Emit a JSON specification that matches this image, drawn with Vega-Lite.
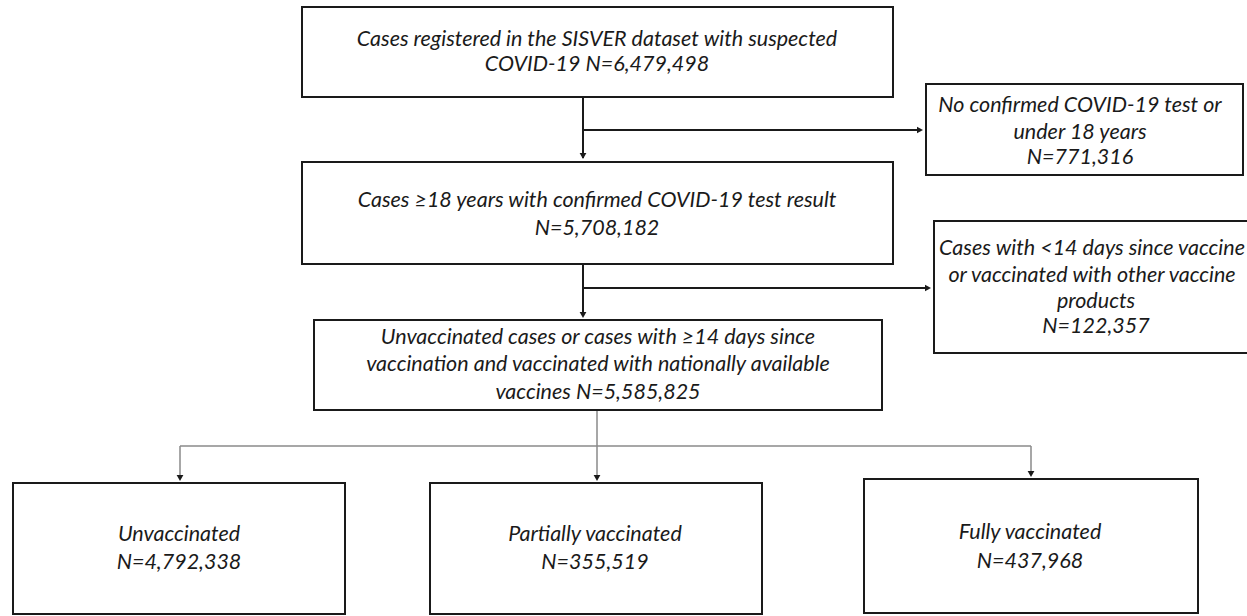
{
  "$schema": "https://vega.github.io/schema/vega-lite/v6.json",
  "width": 1247,
  "height": 616,
  "padding": 0,
  "autosize": {"type": "none"},
  "background": "#ffffff",
  "config": {"view": {"stroke": null}},
  "datasets": {
    "boxes": [
      {"id": "b1", "x1": 302, "x2": 893, "y1": 7, "y2": 97},
      {"id": "b2", "x1": 302, "x2": 893, "y1": 162, "y2": 264},
      {"id": "b3", "x1": 926, "x2": 1243, "y1": 84, "y2": 175},
      {"id": "b4", "x1": 934, "x2": 1262, "y1": 221, "y2": 353},
      {"id": "b5", "x1": 314, "x2": 882, "y1": 320, "y2": 410},
      {"id": "b6", "x1": 13, "x2": 345, "y1": 483, "y2": 614},
      {"id": "b7", "x1": 430, "x2": 762, "y1": 483, "y2": 614},
      {"id": "b8", "x1": 864, "x2": 1198, "y1": 479, "y2": 613}
    ],
    "lines": [
      {"kind": "dark", "x1": 583, "y1": 97, "x2": 583, "y2": 158},
      {"kind": "dark", "x1": 583, "y1": 130, "x2": 921, "y2": 130},
      {"kind": "dark", "x1": 583, "y1": 264, "x2": 583, "y2": 316},
      {"kind": "dark", "x1": 583, "y1": 288, "x2": 929, "y2": 288},
      {"kind": "gray", "x1": 597, "y1": 410, "x2": 597, "y2": 479},
      {"kind": "gray", "x1": 180, "y1": 446, "x2": 1031, "y2": 446},
      {"kind": "gray", "x1": 180, "y1": 446, "x2": 180, "y2": 479},
      {"kind": "gray", "x1": 1031, "y1": 446, "x2": 1031, "y2": 475}
    ],
    "arrows": [
      {"x": 583, "y": 157, "dir": "down"},
      {"x": 921, "y": 130, "dir": "right"},
      {"x": 583, "y": 316, "dir": "down"},
      {"x": 929, "y": 288, "dir": "right"},
      {"x": 180, "y": 479, "dir": "down"},
      {"x": 597, "y": 479, "dir": "down"},
      {"x": 1031, "y": 475, "dir": "down"}
    ],
    "labels": [
      {"x": 597, "y": 40, "text": "Cases registered in the SISVER dataset with suspected"},
      {"x": 597, "y": 65, "text": "COVID-19 N=6,479,498"},
      {"x": 597, "y": 201, "text": "Cases ≥18 years with confirmed COVID-19 test result"},
      {"x": 597, "y": 229, "text": "N=5,708,182"},
      {"x": 1080, "y": 106, "text": "No confirmed COVID-19 test or"},
      {"x": 1080, "y": 133, "text": "under 18 years"},
      {"x": 1080, "y": 158, "text": "N=771,316"},
      {"x": 1092, "y": 249, "text": "Cases with <14 days since vaccine"},
      {"x": 1092, "y": 276, "text": "or vaccinated with other vaccine"},
      {"x": 1096, "y": 302, "text": "products"},
      {"x": 1096, "y": 327, "text": "N=122,357"},
      {"x": 598, "y": 338, "text": "Unvaccinated cases or cases with ≥14 days since"},
      {"x": 598, "y": 365, "text": "vaccination and vaccinated with nationally available"},
      {"x": 598, "y": 393, "text": "vaccines N=5,585,825"},
      {"x": 179, "y": 535, "text": "Unvaccinated"},
      {"x": 179, "y": 563, "text": "N=4,792,338"},
      {"x": 595, "y": 535, "text": "Partially vaccinated"},
      {"x": 595, "y": 563, "text": "N=355,519"},
      {"x": 1030, "y": 533, "text": "Fully vaccinated"},
      {"x": 1030, "y": 562, "text": "N=437,968"}
    ]
  },
  "layer": [
    {
      "data": {"name": "lines"},
      "mark": {"type": "rule"},
      "encoding": {
        "x": {"field": "x1", "type": "quantitative", "scale": {"domain": [0, 1247], "nice": false, "zero": false}, "axis": null},
        "x2": {"field": "x2"},
        "y": {"field": "y1", "type": "quantitative", "scale": {"domain": [0, 616], "nice": false, "zero": false, "reverse": true}, "axis": null},
        "y2": {"field": "y2"},
        "color": {"field": "kind", "type": "nominal", "scale": {"domain": ["dark", "gray"], "range": ["#1a1a1a", "#8a8a8a"]}, "legend": null},
        "strokeWidth": {"field": "kind", "type": "nominal", "scale": {"domain": ["dark", "gray"], "range": [2, 1.5]}, "legend": null}
      }
    },
    {
      "data": {"name": "arrows"},
      "mark": {"type": "point", "filled": true, "color": "#1a1a1a", "opacity": 1},
      "encoding": {
        "x": {"field": "x", "type": "quantitative", "scale": {"domain": [0, 1247], "nice": false, "zero": false}, "axis": null},
        "y": {"field": "y", "type": "quantitative", "scale": {"domain": [0, 616], "nice": false, "zero": false, "reverse": true}, "axis": null},
        "shape": {"field": "dir", "type": "nominal", "scale": {"domain": ["down", "right"], "range": ["M-1,-1.2L1,-1.2L0,0.6Z", "M-1.2,-1L-1.2,1L0.6,0Z"]}, "legend": null},
        "size": {"value": 45}
      }
    },
    {
      "data": {"name": "boxes"},
      "mark": {"type": "rect", "fill": "#ffffff", "stroke": "#1a1a1a", "strokeWidth": 2},
      "encoding": {
        "x": {"field": "x1", "type": "quantitative", "scale": {"domain": [0, 1247], "nice": false, "zero": false}, "axis": null},
        "x2": {"field": "x2"},
        "y": {"field": "y1", "type": "quantitative", "scale": {"domain": [0, 616], "nice": false, "zero": false, "reverse": true}, "axis": null},
        "y2": {"field": "y2"}
      }
    },
    {
      "data": {"name": "labels"},
      "mark": {"type": "text", "font": "Lato", "fontStyle": "italic", "fontSize": 21.5, "color": "#1a1a1a", "align": "center", "baseline": "middle"},
      "encoding": {
        "x": {"field": "x", "type": "quantitative", "scale": {"domain": [0, 1247], "nice": false, "zero": false}, "axis": null},
        "y": {"field": "y", "type": "quantitative", "scale": {"domain": [0, 616], "nice": false, "zero": false, "reverse": true}, "axis": null},
        "text": {"field": "text", "type": "nominal"}
      }
    }
  ]
}
